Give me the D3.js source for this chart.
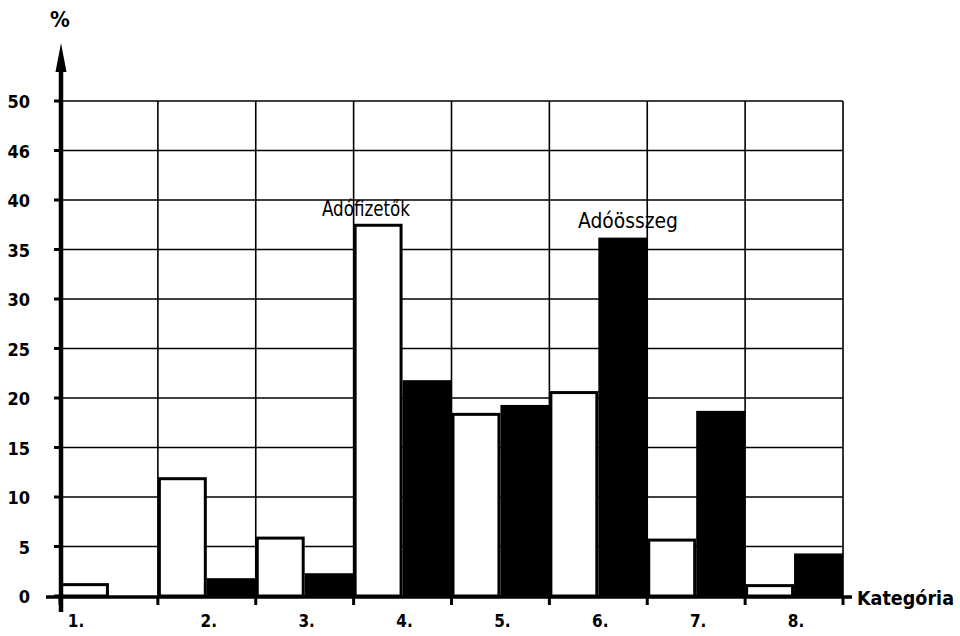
<!DOCTYPE html>
<html><head><meta charset="utf-8">
<script src="https://cdn.jsdelivr.net/npm/d3@7"></script>
<style>
body{margin:0;background:#fff;}
text{font-family:"DejaVu Sans Condensed","DejaVu Sans",sans-serif;font-stretch:condensed;fill:#000;}
</style></head>
<body><svg id="c" width="960" height="636"></svg>
<script>
const categories = ["1.","2.","3.","4.","5.","6.","7.","8."];
const series = ["Adófizetők","Adóösszeg"];
const adofizetok = [1.3, 12.0, 6.0, 37.6, 18.5, 20.7, 5.8, 1.2];
const adoosszeg  = [0.0, 1.8, 2.3, 21.8, 19.3, 36.2, 18.7, 4.3];
const yTicks = [0,5,10,15,20,25,30,35,40,45,50];
const yTickLabels = ["0","5","10","15","20","25","30","35","40","46","50"];

const svg = d3.select("#c");
const x = d3.scaleBand().domain(categories).range([60, 843]).paddingInner(0).paddingOuter(0);
const xs = d3.scaleBand().domain(series).range([0, x.bandwidth()]);
const y = d3.scaleLinear().domain([0,50]).range([596,101]);

// horizontal gridlines
svg.append("g").selectAll("line").data(yTicks.filter(d=>d>0)).join("line")
  .attr("x1",60).attr("x2",843).attr("y1",d=>y(d)).attr("y2",d=>y(d))
  .attr("stroke","#000").attr("stroke-width",1.6);
// vertical gridlines at category boundaries
const bounds = categories.map(c=>x(c)+x.bandwidth());
svg.append("g").selectAll("line").data(bounds).join("line")
  .attr("x1",d=>d).attr("x2",d=>d).attr("y1",y(50)).attr("y2",y(0))
  .attr("stroke","#000").attr("stroke-width",1.6);

// bars
const data = categories.map((c,i)=>({c, v:[adofizetok[i], adoosszeg[i]]}));
const g = svg.append("g");
data.forEach(d=>{
  series.forEach((s,j)=>{
    const v = d.v[j];
    if (v<=0) return;
    const x0 = x(d.c)+xs(s), w = xs.bandwidth();
    if (j===0) {
      g.append("rect").attr("x",x0+1.5).attr("y",y(v)+1.5)
        .attr("width",w-3).attr("height",y(0)-y(v)-1.5)
        .attr("fill","#fff").attr("stroke","#000").attr("stroke-width",3);
    } else {
      g.append("rect").attr("x",x0).attr("y",y(v))
        .attr("width",w).attr("height",y(0)-y(v)).attr("fill","#000");
    }
  });
});

// y axis ticks
svg.append("g").selectAll("line").data(yTicks).join("line")
  .attr("x1",54).attr("x2",62).attr("y1",d=>y(d)).attr("y2",d=>y(d))
  .attr("stroke","#000").attr("stroke-width",3);
svg.append("g").selectAll("text").data(yTicks).join("text")
  .attr("x",30).attr("y",d=>y(d)+7).attr("text-anchor","end")
  .attr("font-size",18).attr("font-weight","bold")
  .text((d,i)=>yTickLabels[i]);

// x axis line
svg.append("line").attr("x1",46).attr("x2",852).attr("y1",y(0)+1).attr("y2",y(0)+1)
  .attr("stroke","#000").attr("stroke-width",3.5);
// x ticks at boundaries
svg.append("g").selectAll("line").data([60].concat(bounds)).join("line")
  .attr("x1",d=>d).attr("x2",d=>d).attr("y1",y(0)).attr("y2",y(0)+9)
  .attr("stroke","#000").attr("stroke-width",3);
// x labels
svg.append("g").selectAll("text").data(categories).join("text")
  .attr("x",(d,i)=> i===0 ? 76 : x(d)+x.bandwidth()/2+2)
  .attr("y",627).attr("text-anchor","middle")
  .attr("font-size",17).attr("font-weight","bold").text(d=>d);

// y axis with arrow
svg.append("line").attr("x1",61).attr("x2",61).attr("y1",612).attr("y2",70)
  .attr("stroke","#000").attr("stroke-width",4.5);
svg.append("path").attr("d","M61,43 L55.5,72 L66.5,72 Z").attr("fill","#000");

// axis titles
svg.append("text").attr("x",60).attr("y",27).attr("text-anchor","middle")
  .attr("font-size",22).attr("font-weight","bold").text("%");
svg.append("text").attr("x",857).attr("y",605)
  .attr("font-size",20).attr("font-weight","bold")
  .attr("textLength",97).attr("lengthAdjust","spacingAndGlyphs").text("Kategória");

// series annotations
svg.append("text").attr("x",322).attr("y",216)
  .attr("font-size",22).attr("textLength",88).attr("lengthAdjust","spacingAndGlyphs").text(series[0]);
svg.append("text").attr("x",578).attr("y",228)
  .attr("font-size",22).attr("textLength",100).attr("lengthAdjust","spacingAndGlyphs").text(series[1]);
</script></body></html>
